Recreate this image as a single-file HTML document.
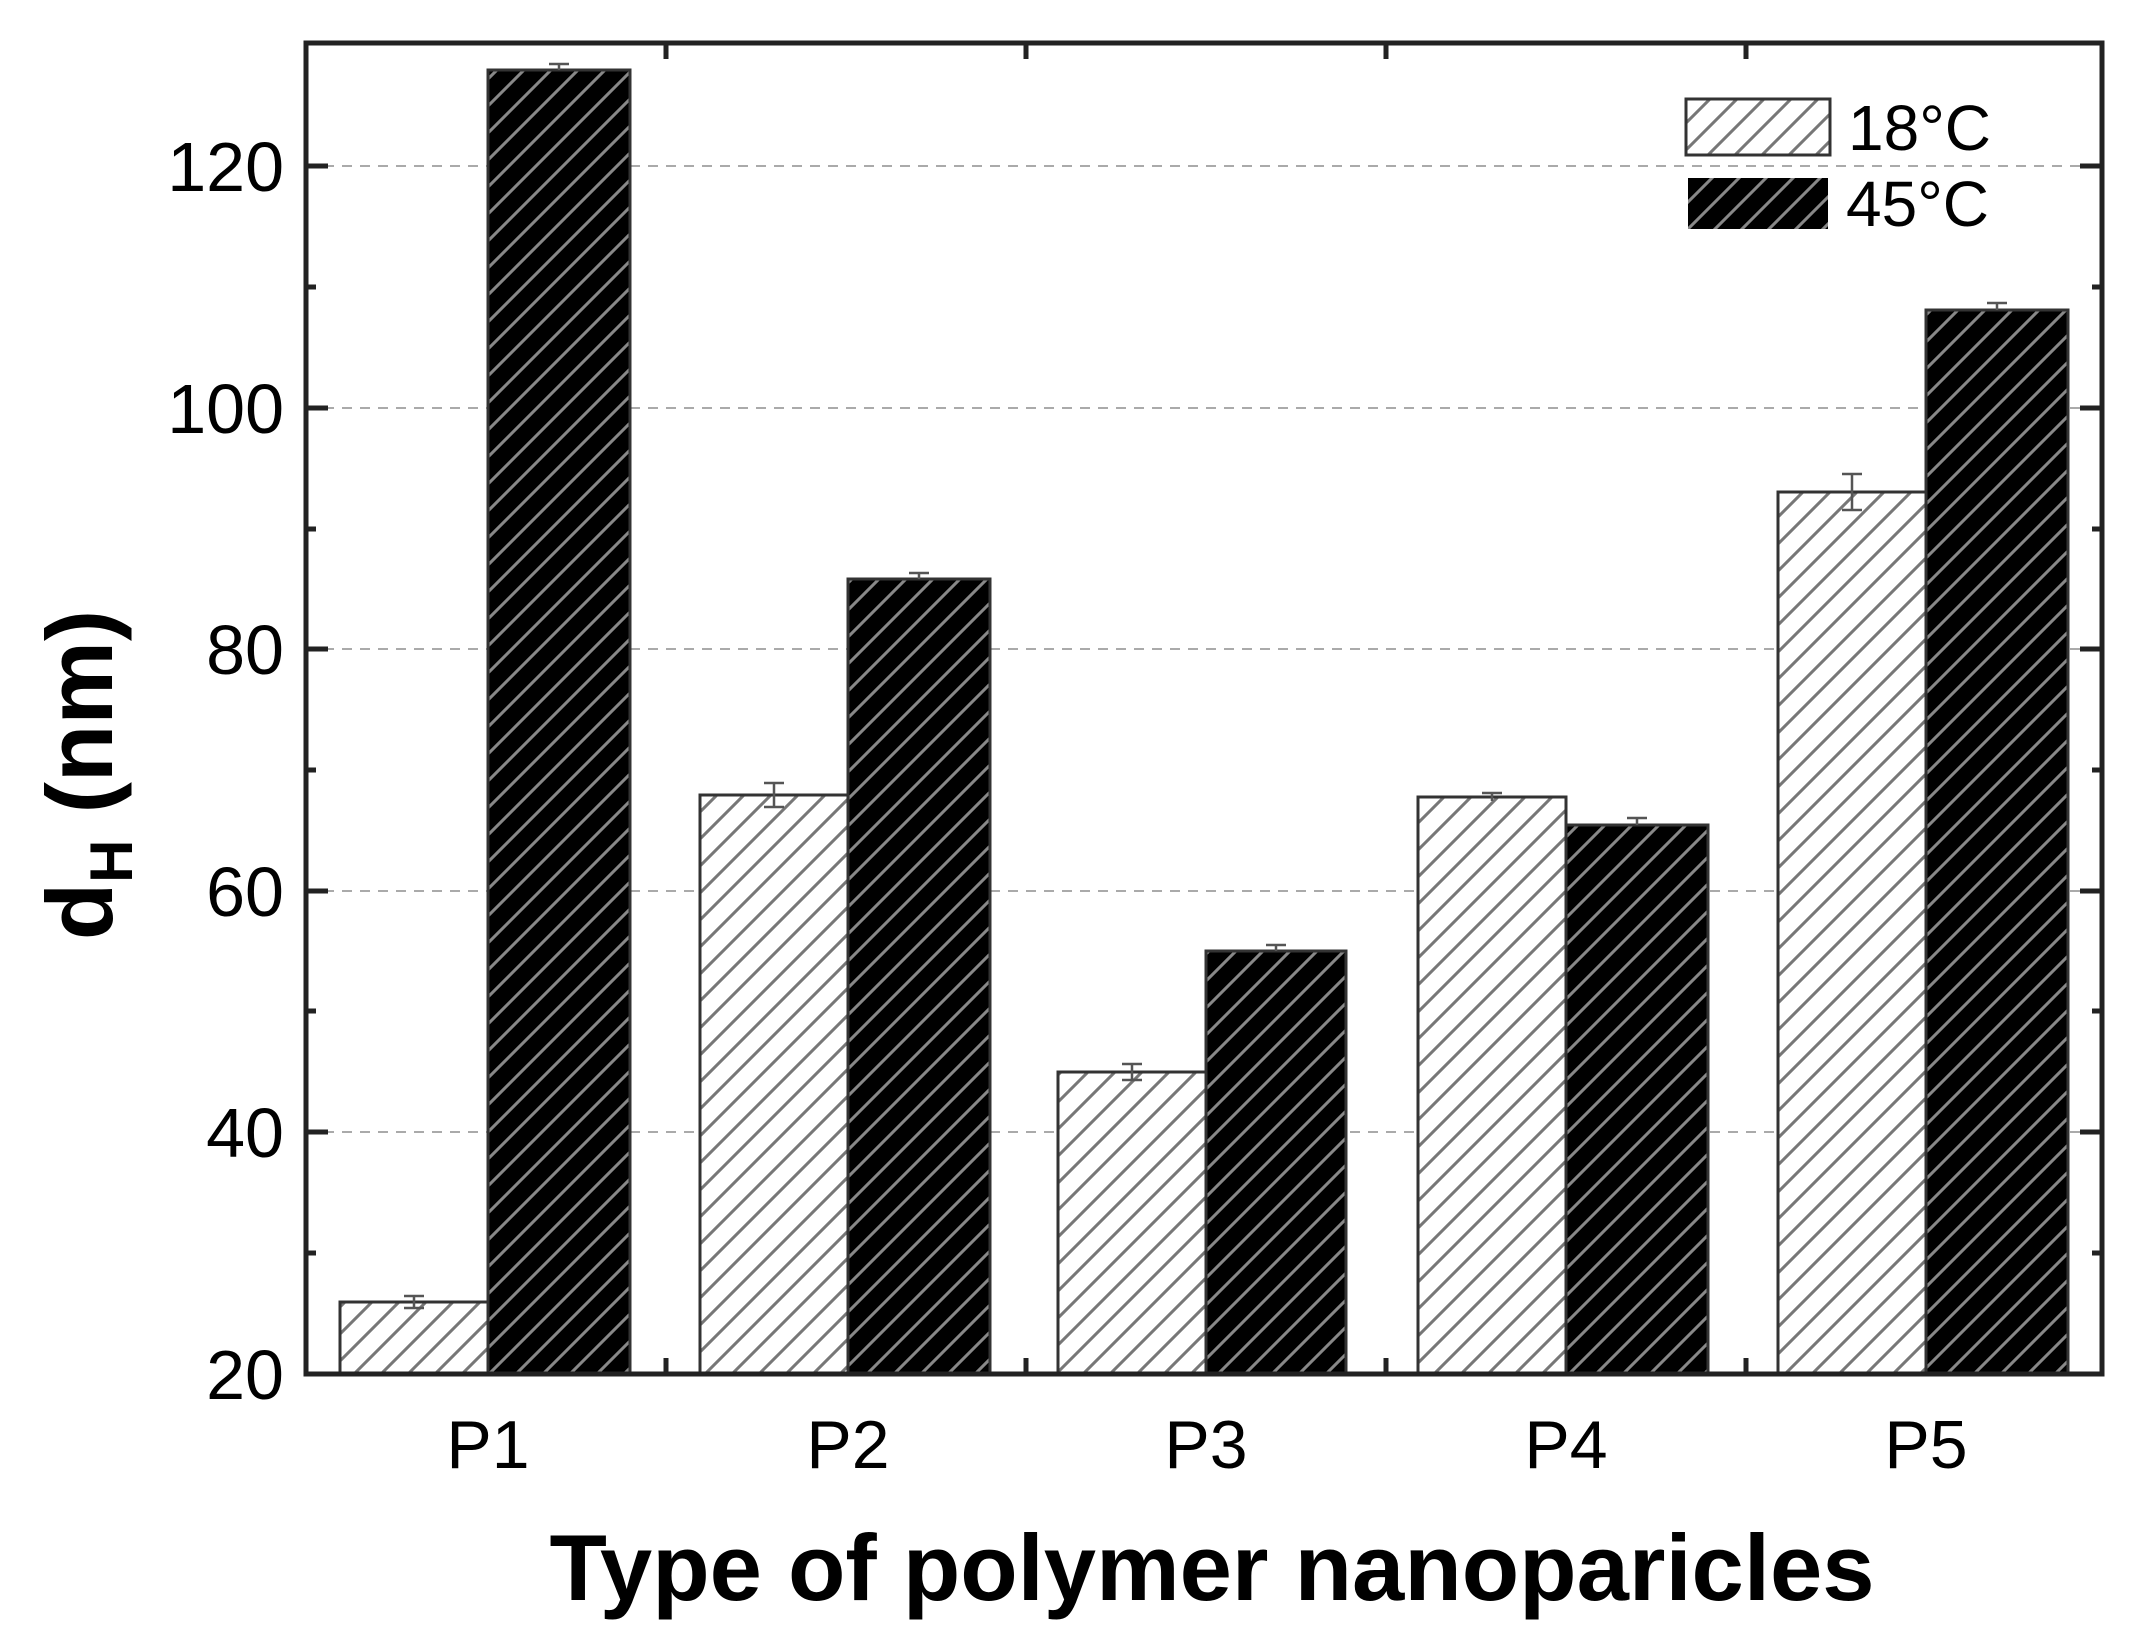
<!DOCTYPE html>
<html><head><meta charset="utf-8"><style>html,body{margin:0;padding:0;background:#fff}svg{display:block}</style></head>
<body>
<svg width="2137" height="1635" viewBox="0 0 2137 1635" xmlns="http://www.w3.org/2000/svg" font-family="Liberation Sans, Arial, sans-serif">
<defs>
<pattern id="hl" patternUnits="userSpaceOnUse" width="27" height="27">
<rect width="27" height="27" fill="#fff"/>
<path d="M-6,6 L6,-6 M0,27 L27,0 M21,33 L33,21" stroke="#777" stroke-width="3"/>
</pattern>
<pattern id="hd" patternUnits="userSpaceOnUse" width="27" height="27">
<rect width="27" height="27" fill="#000"/>
<path d="M-6,6 L6,-6 M0,27 L27,0 M21,33 L33,21" stroke="#888" stroke-width="3"/>
</pattern>
</defs>
<g stroke="#aaa" stroke-width="2" stroke-dasharray="10,8">
<line x1="306" x2="2102" y1="166" y2="166"/>
<line x1="306" x2="2102" y1="408" y2="408"/>
<line x1="306" x2="2102" y1="649" y2="649"/>
<line x1="306" x2="2102" y1="891" y2="891"/>
<line x1="306" x2="2102" y1="1132" y2="1132"/>
</g>
<g stroke="#333" stroke-width="3">
<rect x="340" y="1302" width="148" height="72" fill="url(#hl)"/>
<rect x="488" y="70" width="142" height="1304" fill="url(#hd)"/>
<rect x="700" y="795" width="148" height="579" fill="url(#hl)"/>
<rect x="848" y="579" width="142" height="795" fill="url(#hd)"/>
<rect x="1058" y="1072" width="148" height="302" fill="url(#hl)"/>
<rect x="1206" y="951" width="140" height="423" fill="url(#hd)"/>
<rect x="1418" y="797" width="148" height="577" fill="url(#hl)"/>
<rect x="1566" y="825" width="142" height="549" fill="url(#hd)"/>
<rect x="1778" y="492" width="148" height="882" fill="url(#hl)"/>
<rect x="1926" y="310" width="142" height="1064" fill="url(#hd)"/>
</g>
<g stroke="#555" stroke-width="2.5">
<path d="M404,1296 H424 M414,1296 V1308 M404,1308 H424"/>
<path d="M549,64 H569 M559,64 V70"/>
<path d="M764,783 H784 M774,783 V807 M764,807 H784"/>
<path d="M909,573 H929 M919,573 V579"/>
<path d="M1122,1064 H1142 M1132,1064 V1080 M1122,1080 H1142"/>
<path d="M1266,945 H1286 M1276,945 V951"/>
<path d="M1482,793 H1502 M1492,793 V801"/>
<path d="M1627,818 H1647 M1637,818 V825"/>
<path d="M1842,474 H1862 M1852,474 V510 M1842,510 H1862"/>
<path d="M1987,303 H2007 M1997,303 V310"/>
</g>
<rect x="306" y="43" width="1796" height="1331" fill="none" stroke="#222" stroke-width="5"/>
<g stroke="#222" stroke-width="5">
<line x1="306" x2="328" y1="166" y2="166"/><line x1="306" x2="328" y1="408" y2="408"/>
<line x1="306" x2="328" y1="649" y2="649"/><line x1="306" x2="328" y1="891" y2="891"/>
<line x1="306" x2="328" y1="1132" y2="1132"/>
<line x1="306" x2="316" y1="287" y2="287"/><line x1="306" x2="316" y1="529" y2="529"/>
<line x1="306" x2="316" y1="770" y2="770"/><line x1="306" x2="316" y1="1011" y2="1011"/>
<line x1="306" x2="316" y1="1253" y2="1253"/>
<line x1="2080" x2="2102" y1="166" y2="166"/><line x1="2080" x2="2102" y1="408" y2="408"/>
<line x1="2080" x2="2102" y1="649" y2="649"/><line x1="2080" x2="2102" y1="891" y2="891"/>
<line x1="2080" x2="2102" y1="1132" y2="1132"/>
<line x1="2092" x2="2102" y1="287" y2="287"/><line x1="2092" x2="2102" y1="529" y2="529"/>
<line x1="2092" x2="2102" y1="770" y2="770"/><line x1="2092" x2="2102" y1="1011" y2="1011"/>
<line x1="2092" x2="2102" y1="1253" y2="1253"/>
<line x1="666" x2="666" y1="1374" y2="1358"/><line x1="1026" x2="1026" y1="1374" y2="1358"/>
<line x1="1386" x2="1386" y1="1374" y2="1358"/><line x1="1746" x2="1746" y1="1374" y2="1358"/>
<line x1="666" x2="666" y1="43" y2="59"/><line x1="1026" x2="1026" y1="43" y2="59"/>
<line x1="1386" x2="1386" y1="43" y2="59"/><line x1="1746" x2="1746" y1="43" y2="59"/>
</g>
<g font-size="70" text-anchor="end" fill="#000">
<text x="284" y="191">120</text><text x="284" y="433">100</text>
<text x="284" y="674">80</text><text x="284" y="916">60</text>
<text x="284" y="1157">40</text><text x="284" y="1399">20</text>
</g>
<g font-size="68" text-anchor="middle" fill="#000">
<text x="488" y="1468">P1</text><text x="848" y="1468">P2</text>
<text x="1206" y="1468">P3</text><text x="1566" y="1468">P4</text>
<text x="1926" y="1468">P5</text>
</g>
<text x="1212" y="1600" font-size="94" font-weight="bold" text-anchor="middle">Type of polymer nanoparicles</text>
<text transform="translate(112,775) rotate(-90)" font-size="94" font-weight="bold" text-anchor="middle">d<tspan font-size="60" dy="20">H</tspan><tspan dy="-20"> (nm)</tspan></text>
<rect x="1686" y="99" width="144" height="56" fill="url(#hl)" stroke="#333" stroke-width="3"/>
<rect x="1688" y="178" width="140" height="51" fill="url(#hd)"/>
<text x="1848" y="150" font-size="64">18°C</text>
<text x="1846" y="226" font-size="64">45°C</text>
</svg>
</body></html>
